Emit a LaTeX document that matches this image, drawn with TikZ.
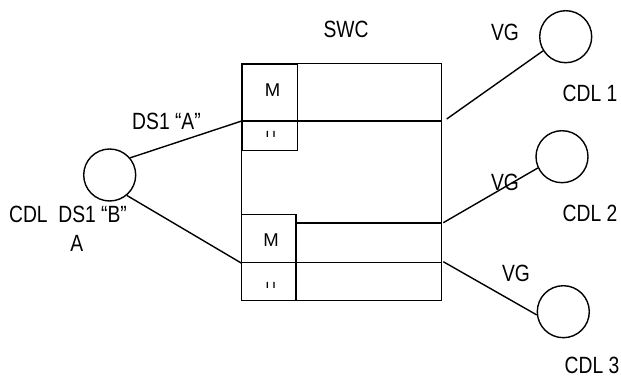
\documentclass[tikz,border=0pt]{standalone}
\usepackage{fontspec}
\setmainfont[FakeStretch=0.82]{Liberation Sans}
\newfontfamily\mfont{Liberation Sans}
\newfontfamily\hfont[FakeStretch=0.65]{Liberation Sans}
\begin{document}
\begin{tikzpicture}[x=1pt,y=-1pt,
  ln/.style={line width=1.4pt},
  cdl/.style={circle,draw,line width=1.4pt,minimum size=52pt,inner sep=0pt},
  lbl/.style={inner sep=0pt,font=\fontsize{23.5}{27}\selectfont},
  ml/.style={inner sep=0pt,font=\mfont\fontsize{18.5}{22}\selectfont},
  hl/.style={inner sep=0pt,font=\hfont\fontsize{22}{26}\selectfont}]
\path[use as bounding box,fill=white] (0,0) rectangle (621,379);
% switch box
\draw[ln] (241.7,63.3) rectangle (441.7,300.7);
\draw[ln] (242.5,64.5) rectangle (297.7,150.7);
\draw[ln] (241.7,121) -- (441.7,121);
\draw[ln] (241.7,214.3) rectangle (296,300.7);
\draw[ln] (296,223) -- (441.7,223);
\draw[ln] (241.7,262.7) -- (441.7,262.7);
\node[ml] (m1) at (272.7,90) {M};
\node[ml] (m2) at (271,240) {M};
\begin{scope}
\clip (250,122) rectangle (290,137.0);
\node[hl] (h1) at (270.7,139.0) {H};
\end{scope}
\begin{scope}
\clip (250,264) rectangle (290,288.0);
\node[hl] (h2) at (270.7,289.6) {H};
\end{scope}
% circles
\node[cdl] (cA) at (109.7,175) {};
\node[cdl] (c1) at (565.7,36.7) {};
\node[cdl] (c2) at (562,156.7) {};
\node[cdl] (c3) at (563.3,311.7) {};
% connection points
\coordinate (a1) at (241.7,121);
\coordinate (a2) at (241.7,263.3);
\coordinate (p1) at (446.7,119);
\coordinate (p2) at (443.3,222.7);
\coordinate (p3) at (443.3,261.7);
\draw[ln] (cA.40) -- (a1);
\draw[ln] (cA.-50) -- (a2);
\draw[ln] (p1) -- (c1.212);
\draw[ln] (p2) -- (c2.205);
\draw[ln] (p3) -- (c3.187);
% labels
\node[lbl] (swc) at (346,29) {SWC};
\node[lbl] (dsa) at (166.5,121) {DS1 “A”};
\node[lbl] (dsb) at (68,214) {CDL~~DS1 “B”};
\node[lbl] (la) at (76.7,243) {A};
\node[lbl] (vg1) at (505,32) {VG};
\node[lbl] (vg2) at (505,182) {VG};
\node[lbl] (vg3) at (516,273) {VG};
\node[lbl] (l1) at (590,93) {CDL 1};
\node[lbl] (l2) at (590,213) {CDL 2};
\node[lbl] (l3) at (592,365.7) {CDL 3};
\end{tikzpicture}
\end{document}
